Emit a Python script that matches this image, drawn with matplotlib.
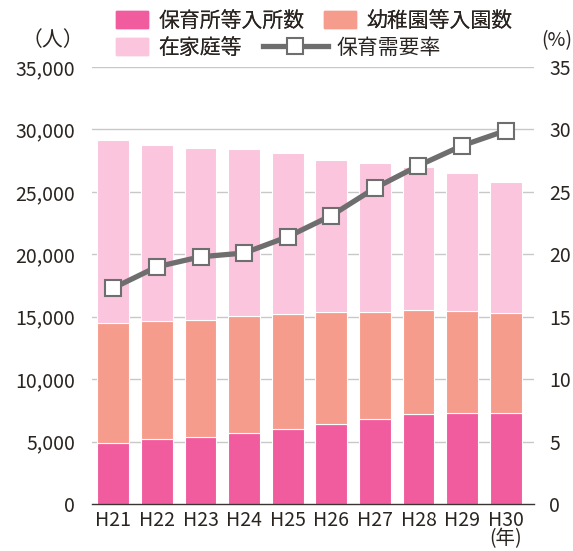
import matplotlib
matplotlib.use("Agg")
import matplotlib.pyplot as plt
from matplotlib.patches import Patch
from matplotlib.lines import Line2D
import numpy as np

plt.rcParams['font.family'] = ['Noto Sans CJK JP', 'DejaVu Sans']

years = ["H21", "H22", "H23", "H24", "H25", "H26", "H27", "H28", "H29", "H30"]
nursery = [4860, 5180, 5370, 5660, 6010, 6380, 6830, 7180, 7290, 7310]
kindergarten = [9660, 9480, 9340, 9370, 9180, 8970, 8550, 8380, 8190, 7960]
home = [14630, 14120, 13770, 13370, 12920, 12200, 11930, 11430, 11030, 10500]
rate = [17.3, 19.0, 19.8, 20.1, 21.4, 23.1, 25.3, 27.1, 28.7, 29.9]

labels = ["保育所等入所数", "幼稚園等入園数", "在家庭等", "保育需要率"]
year_unit = "(年)"
c_nur = "#f15c9f"
c_kin = "#f69c8c"
c_home = "#fac5dd"
c_line = "#6e6e6e"
txt = "#2b2522"

W, H = 573, 551
fig = plt.figure(figsize=(W/100, H/100), dpi=100)
ax = fig.add_axes([92/W, 1-504/H, (534-92)/W, (504-67)/H])

x = np.arange(len(years))
bw = 0.73
nur = np.array(nursery)
kin = np.array(kindergarten)
hom = np.array(home)
ax.bar(x, nur, bw, color=c_nur, edgecolor="white", linewidth=0.8, zorder=3)
ax.bar(x, kin, bw, bottom=nur, color=c_kin, edgecolor="white", linewidth=0.8, zorder=3)
ax.bar(x, hom, bw, bottom=nur+kin, color=c_home, edgecolor="white", linewidth=0.8, zorder=3)

ax.set_ylim(0, 35000)
ax.set_xlim(-0.49, 9.65)
yt = np.arange(0, 35001, 5000)
ax.set_yticks(yt)
ax.set_yticklabels([f"{v:,}" for v in yt])
for v in yt[1:]:
    ax.axhline(v, color="#c8c8c8", lw=1.0, zorder=1)
ax.set_xticks(x)
xl = list(years)
xl[-1] = xl[-1] + "\n" + year_unit
ax.set_xticklabels(xl, linespacing=0.82, va="top")
ax.tick_params(axis="both", length=0, labelsize=14, colors=txt)
ax.tick_params(axis="y", pad=12)
ax.tick_params(axis="x", pad=4)
for s in ["top", "right", "left"]:
    ax.spines[s].set_visible(False)
ax.spines["bottom"].set_color("#3a3432")
ax.spines["bottom"].set_linewidth(1.0)
ax.spines["bottom"].set_zorder(5)

ax2 = ax.twinx()
ax2.set_ylim(0, 35)
ax2.set_yticks(np.arange(0, 36, 5))
ax2.tick_params(axis="y", length=0, labelsize=14, colors=txt, pad=11)
for s in ["top", "right", "left", "bottom"]:
    ax2.spines[s].set_visible(False)
ax2.plot(x, rate, color=c_line, lw=3.8, marker="s", markersize=12,
         markerfacecolor="white", markeredgecolor=c_line, markeredgewidth=1.5, zorder=5)

fig.text(53/W, 1-40/H, "（人）", ha="center", va="center", fontsize=15, color=txt)
fig.text(572/W, 1-41/H, "(%)", ha="right", va="center", fontsize=14, color=txt)

lfs = 15
common = dict(frameon=False, fontsize=lfs, handlelength=1.54, handleheight=0.88,
              handletextpad=0.48, borderpad=0, borderaxespad=0, labelcolor=txt)
leg1 = fig.legend([Patch(color=c_nur), Patch(color=c_kin)], labels[:2], ncol=2,
                  loc="center left", bbox_to_anchor=(116/W, 1-20.5/H), columnspacing=0.96, **common)
leg2 = fig.legend([Patch(color=c_home)], [labels[2]],
                  loc="center left", bbox_to_anchor=(116/W, 1-48/H), **common)
fig.add_artist(leg1)
fig.add_artist(leg2)
common3 = dict(common)
common3["handlelength"] = 3.1
common3["handletextpad"] = 0.43
leg3 = fig.legend([Line2D([], [], color=c_line, lw=3.8, marker="s", markersize=12,
                          markerfacecolor="white", markeredgecolor=c_line, markeredgewidth=1.5)],
                  [labels[3]], loc="center left", bbox_to_anchor=(263/W, 1-48/H), **common3)

fig.savefig("out.png", dpi=100)
